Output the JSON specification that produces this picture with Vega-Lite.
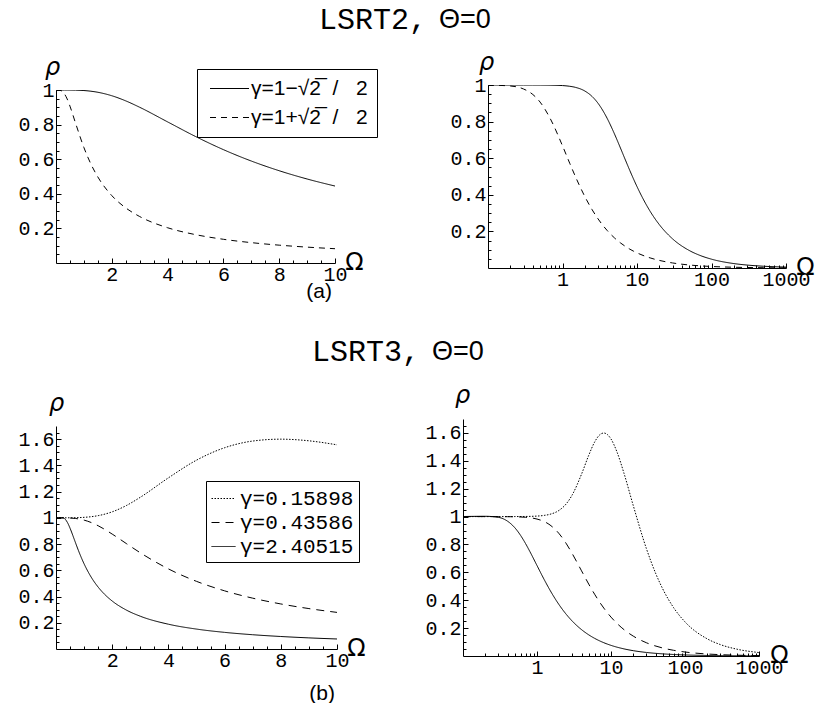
{
  "$schema": "https://vega.github.io/schema/vega-lite/v6.json",
  "padding": {"left": 17, "top": 5, "right": 0, "bottom": 0},
  "background": "white",
  "config": {
    "view": {"stroke": null},
    "axis": {"grid": false, "domainColor": "black", "domainWidth": 1, "tickColor": "black", "tickWidth": 1, "labelColor": "black", "labelFont": "Liberation Mono", "labelFontSize": 20, "labelOverlap": false, "labelFlush": false, "labelBound": false, "titleColor": "black", "titleFontWeight": "normal", "titleAngle": 0},
    "line": {"color": "black", "strokeWidth": 1, "interpolate": "monotone"},
    "title": {"color": "black", "fontWeight": "normal", "subtitleColor": "black"}
  },
  "datasets": {
    "lsrt2": [
      {"Omega": 0, "g": "γ=1−√2\u0305\u00a0\u00a0/\u00a0\u00a0\u00a02", "rho": 1},
      {"Omega": 0.1, "g": "γ=1−√2\u0305\u00a0\u00a0/\u00a0\u00a0\u00a02", "rho": 1.0},
      {"Omega": 0.2, "g": "γ=1−√2\u0305\u00a0\u00a0/\u00a0\u00a0\u00a02", "rho": 0.99999},
      {"Omega": 0.3, "g": "γ=1−√2\u0305\u00a0\u00a0/\u00a0\u00a0\u00a02", "rho": 0.99997},
      {"Omega": 0.4, "g": "γ=1−√2\u0305\u00a0\u00a0/\u00a0\u00a0\u00a02", "rho": 0.99991},
      {"Omega": 0.5, "g": "γ=1−√2\u0305\u00a0\u00a0/\u00a0\u00a0\u00a02", "rho": 0.99978},
      {"Omega": 0.7, "g": "γ=1−√2\u0305\u00a0\u00a0/\u00a0\u00a0\u00a02", "rho": 0.99919},
      {"Omega": 1, "g": "γ=1−√2\u0305\u00a0\u00a0/\u00a0\u00a0\u00a02", "rho": 0.99687},
      {"Omega": 1.25, "g": "γ=1−√2\u0305\u00a0\u00a0/\u00a0\u00a0\u00a02", "rho": 0.99299},
      {"Omega": 1.5, "g": "γ=1−√2\u0305\u00a0\u00a0/\u00a0\u00a0\u00a02", "rho": 0.98683},
      {"Omega": 2, "g": "γ=1−√2\u0305\u00a0\u00a0/\u00a0\u00a0\u00a02", "rho": 0.96682},
      {"Omega": 2.5, "g": "γ=1−√2\u0305\u00a0\u00a0/\u00a0\u00a0\u00a02", "rho": 0.93711},
      {"Omega": 3, "g": "γ=1−√2\u0305\u00a0\u00a0/\u00a0\u00a0\u00a02", "rho": 0.90009},
      {"Omega": 4, "g": "γ=1−√2\u0305\u00a0\u00a0/\u00a0\u00a0\u00a02", "rho": 0.81566},
      {"Omega": 5, "g": "γ=1−√2\u0305\u00a0\u00a0/\u00a0\u00a0\u00a02", "rho": 0.73136},
      {"Omega": 6, "g": "γ=1−√2\u0305\u00a0\u00a0/\u00a0\u00a0\u00a02", "rho": 0.65526},
      {"Omega": 7, "g": "γ=1−√2\u0305\u00a0\u00a0/\u00a0\u00a0\u00a02", "rho": 0.58943},
      {"Omega": 8, "g": "γ=1−√2\u0305\u00a0\u00a0/\u00a0\u00a0\u00a02", "rho": 0.53331},
      {"Omega": 9, "g": "γ=1−√2\u0305\u00a0\u00a0/\u00a0\u00a0\u00a02", "rho": 0.48558},
      {"Omega": 10, "g": "γ=1−√2\u0305\u00a0\u00a0/\u00a0\u00a0\u00a02", "rho": 0.44486},
      {"Omega": 15, "g": "γ=1−√2\u0305\u00a0\u00a0/\u00a0\u00a0\u00a02", "rho": 0.30998},
      {"Omega": 20, "g": "γ=1−√2\u0305\u00a0\u00a0/\u00a0\u00a0\u00a02", "rho": 0.23629},
      {"Omega": 30, "g": "γ=1−√2\u0305\u00a0\u00a0/\u00a0\u00a0\u00a02", "rho": 0.1594},
      {"Omega": 50, "g": "γ=1−√2\u0305\u00a0\u00a0/\u00a0\u00a0\u00a02", "rho": 0.09623},
      {"Omega": 70, "g": "γ=1−√2\u0305\u00a0\u00a0/\u00a0\u00a0\u00a02", "rho": 0.06885},
      {"Omega": 100, "g": "γ=1−√2\u0305\u00a0\u00a0/\u00a0\u00a0\u00a02", "rho": 0.04824},
      {"Omega": 200, "g": "γ=1−√2\u0305\u00a0\u00a0/\u00a0\u00a0\u00a02", "rho": 0.02414},
      {"Omega": 300, "g": "γ=1−√2\u0305\u00a0\u00a0/\u00a0\u00a0\u00a02", "rho": 0.01609},
      {"Omega": 500, "g": "γ=1−√2\u0305\u00a0\u00a0/\u00a0\u00a0\u00a02", "rho": 0.00966},
      {"Omega": 1000, "g": "γ=1−√2\u0305\u00a0\u00a0/\u00a0\u00a0\u00a02", "rho": 0.00483},
      {"Omega": 0, "g": "γ=1+√2\u0305\u00a0\u00a0/\u00a0\u00a0\u00a02", "rho": 1},
      {"Omega": 0.1, "g": "γ=1+√2\u0305\u00a0\u00a0/\u00a0\u00a0\u00a02", "rho": 0.9996},
      {"Omega": 0.2, "g": "γ=1+√2\u0305\u00a0\u00a0/\u00a0\u00a0\u00a02", "rho": 0.99454},
      {"Omega": 0.3, "g": "γ=1+√2\u0305\u00a0\u00a0/\u00a0\u00a0\u00a02", "rho": 0.97818},
      {"Omega": 0.4, "g": "γ=1+√2\u0305\u00a0\u00a0/\u00a0\u00a0\u00a02", "rho": 0.94809},
      {"Omega": 0.5, "g": "γ=1+√2\u0305\u00a0\u00a0/\u00a0\u00a0\u00a02", "rho": 0.90684},
      {"Omega": 0.7, "g": "γ=1+√2\u0305\u00a0\u00a0/\u00a0\u00a0\u00a02", "rho": 0.80877},
      {"Omega": 1, "g": "γ=1+√2\u0305\u00a0\u00a0/\u00a0\u00a0\u00a02", "rho": 0.6676},
      {"Omega": 1.25, "g": "γ=1+√2\u0305\u00a0\u00a0/\u00a0\u00a0\u00a02", "rho": 0.57246},
      {"Omega": 1.5, "g": "γ=1+√2\u0305\u00a0\u00a0/\u00a0\u00a0\u00a02", "rho": 0.49714},
      {"Omega": 2, "g": "γ=1+√2\u0305\u00a0\u00a0/\u00a0\u00a0\u00a02", "rho": 0.38958},
      {"Omega": 2.5, "g": "γ=1+√2\u0305\u00a0\u00a0/\u00a0\u00a0\u00a02", "rho": 0.31841},
      {"Omega": 3, "g": "γ=1+√2\u0305\u00a0\u00a0/\u00a0\u00a0\u00a02", "rho": 0.26853},
      {"Omega": 4, "g": "γ=1+√2\u0305\u00a0\u00a0/\u00a0\u00a0\u00a02", "rho": 0.20384},
      {"Omega": 5, "g": "γ=1+√2\u0305\u00a0\u00a0/\u00a0\u00a0\u00a02", "rho": 0.164},
      {"Omega": 6, "g": "γ=1+√2\u0305\u00a0\u00a0/\u00a0\u00a0\u00a02", "rho": 0.13709},
      {"Omega": 7, "g": "γ=1+√2\u0305\u00a0\u00a0/\u00a0\u00a0\u00a02", "rho": 0.11773},
      {"Omega": 8, "g": "γ=1+√2\u0305\u00a0\u00a0/\u00a0\u00a0\u00a02", "rho": 0.10314},
      {"Omega": 9, "g": "γ=1+√2\u0305\u00a0\u00a0/\u00a0\u00a0\u00a02", "rho": 0.09176},
      {"Omega": 10, "g": "γ=1+√2\u0305\u00a0\u00a0/\u00a0\u00a0\u00a02", "rho": 0.08263},
      {"Omega": 15, "g": "γ=1+√2\u0305\u00a0\u00a0/\u00a0\u00a0\u00a02", "rho": 0.05517},
      {"Omega": 20, "g": "γ=1+√2\u0305\u00a0\u00a0/\u00a0\u00a0\u00a02", "rho": 0.04139},
      {"Omega": 30, "g": "γ=1+√2\u0305\u00a0\u00a0/\u00a0\u00a0\u00a02", "rho": 0.02761},
      {"Omega": 50, "g": "γ=1+√2\u0305\u00a0\u00a0/\u00a0\u00a0\u00a02", "rho": 0.01657},
      {"Omega": 70, "g": "γ=1+√2\u0305\u00a0\u00a0/\u00a0\u00a0\u00a02", "rho": 0.01183},
      {"Omega": 100, "g": "γ=1+√2\u0305\u00a0\u00a0/\u00a0\u00a0\u00a02", "rho": 0.00828},
      {"Omega": 200, "g": "γ=1+√2\u0305\u00a0\u00a0/\u00a0\u00a0\u00a02", "rho": 0.00414},
      {"Omega": 300, "g": "γ=1+√2\u0305\u00a0\u00a0/\u00a0\u00a0\u00a02", "rho": 0.00276},
      {"Omega": 500, "g": "γ=1+√2\u0305\u00a0\u00a0/\u00a0\u00a0\u00a02", "rho": 0.00166},
      {"Omega": 1000, "g": "γ=1+√2\u0305\u00a0\u00a0/\u00a0\u00a0\u00a02", "rho": 0.00083}
    ],
    "lsrt3": [
      {"Omega": 0, "g": "γ=0.15898", "rho": 1},
      {"Omega": 0.1, "g": "γ=0.15898", "rho": 1.0},
      {"Omega": 0.2, "g": "γ=0.15898", "rho": 1.00001},
      {"Omega": 0.3, "g": "γ=0.15898", "rho": 1.00003},
      {"Omega": 0.4, "g": "γ=0.15898", "rho": 1.0001},
      {"Omega": 0.5, "g": "γ=0.15898", "rho": 1.00024},
      {"Omega": 0.7, "g": "γ=0.15898", "rho": 1.00091},
      {"Omega": 1, "g": "γ=0.15898", "rho": 1.00363},
      {"Omega": 1.25, "g": "γ=0.15898", "rho": 1.00848},
      {"Omega": 1.5, "g": "γ=0.15898", "rho": 1.01664},
      {"Omega": 2, "g": "γ=0.15898", "rho": 1.04567},
      {"Omega": 2.5, "g": "γ=0.15898", "rho": 1.09324},
      {"Omega": 3, "g": "γ=0.15898", "rho": 1.15665},
      {"Omega": 4, "g": "γ=0.15898", "rho": 1.30478},
      {"Omega": 5, "g": "γ=0.15898", "rho": 1.43952},
      {"Omega": 6, "g": "γ=0.15898", "rho": 1.53421},
      {"Omega": 7, "g": "γ=0.15898", "rho": 1.58521},
      {"Omega": 8, "g": "γ=0.15898", "rho": 1.5996},
      {"Omega": 9, "g": "γ=0.15898", "rho": 1.58711},
      {"Omega": 10, "g": "γ=0.15898", "rho": 1.55645},
      {"Omega": 12, "g": "γ=0.15898", "rho": 1.46591},
      {"Omega": 15, "g": "γ=0.15898", "rho": 1.30975},
      {"Omega": 20, "g": "γ=0.15898", "rho": 1.07858},
      {"Omega": 30, "g": "γ=0.15898", "rho": 0.77226},
      {"Omega": 40, "g": "γ=0.15898", "rho": 0.59444},
      {"Omega": 50, "g": "γ=0.15898", "rho": 0.48139},
      {"Omega": 70, "g": "γ=0.15898", "rho": 0.34756},
      {"Omega": 100, "g": "γ=0.15898", "rho": 0.24469},
      {"Omega": 200, "g": "γ=0.15898", "rho": 0.12285},
      {"Omega": 300, "g": "γ=0.15898", "rho": 0.08197},
      {"Omega": 500, "g": "γ=0.15898", "rho": 0.04921},
      {"Omega": 1000, "g": "γ=0.15898", "rho": 0.02461},
      {"Omega": 0, "g": "γ=0.43586", "rho": 1},
      {"Omega": 0.1, "g": "γ=0.43586", "rho": 1.0},
      {"Omega": 0.2, "g": "γ=0.43586", "rho": 0.99996},
      {"Omega": 0.3, "g": "γ=0.43586", "rho": 0.9998},
      {"Omega": 0.4, "g": "γ=0.43586", "rho": 0.99938},
      {"Omega": 0.5, "g": "γ=0.43586", "rho": 0.99854},
      {"Omega": 0.7, "g": "γ=0.43586", "rho": 0.99492},
      {"Omega": 1, "g": "γ=0.43586", "rho": 0.98244},
      {"Omega": 1.25, "g": "γ=0.43586", "rho": 0.96438},
      {"Omega": 1.5, "g": "γ=0.43586", "rho": 0.93968},
      {"Omega": 2, "g": "γ=0.43586", "rho": 0.87605},
      {"Omega": 2.5, "g": "γ=0.43586", "rho": 0.8042},
      {"Omega": 3, "g": "γ=0.43586", "rho": 0.73346},
      {"Omega": 4, "g": "γ=0.43586", "rho": 0.61061},
      {"Omega": 5, "g": "γ=0.43586", "rho": 0.51573},
      {"Omega": 6, "g": "γ=0.43586", "rho": 0.44341},
      {"Omega": 7, "g": "γ=0.43586", "rho": 0.38754},
      {"Omega": 8, "g": "γ=0.43586", "rho": 0.3435},
      {"Omega": 9, "g": "γ=0.43586", "rho": 0.30807},
      {"Omega": 10, "g": "γ=0.43586", "rho": 0.27907},
      {"Omega": 15, "g": "γ=0.43586", "rho": 0.18895},
      {"Omega": 20, "g": "γ=0.43586", "rho": 0.14249},
      {"Omega": 30, "g": "γ=0.43586", "rho": 0.09537},
      {"Omega": 50, "g": "γ=0.43586", "rho": 0.05734},
      {"Omega": 70, "g": "γ=0.43586", "rho": 0.04098},
      {"Omega": 100, "g": "γ=0.43586", "rho": 0.02869},
      {"Omega": 200, "g": "γ=0.43586", "rho": 0.01435},
      {"Omega": 300, "g": "γ=0.43586", "rho": 0.00957},
      {"Omega": 500, "g": "γ=0.43586", "rho": 0.00574},
      {"Omega": 1000, "g": "γ=0.43586", "rho": 0.00287},
      {"Omega": 0, "g": "γ=2.40515", "rho": 1},
      {"Omega": 0.1, "g": "γ=2.40515", "rho": 1.00046},
      {"Omega": 0.2, "g": "γ=2.40515", "rho": 1.00216},
      {"Omega": 0.3, "g": "γ=2.40515", "rho": 0.99466},
      {"Omega": 0.4, "g": "γ=2.40515", "rho": 0.96686},
      {"Omega": 0.5, "g": "γ=2.40515", "rho": 0.92087},
      {"Omega": 0.6, "g": "γ=2.40515", "rho": 0.86502},
      {"Omega": 0.7, "g": "γ=2.40515", "rho": 0.80657},
      {"Omega": 0.8, "g": "γ=2.40515", "rho": 0.74989},
      {"Omega": 1, "g": "γ=2.40515", "rho": 0.64897},
      {"Omega": 1.25, "g": "γ=2.40515", "rho": 0.54858},
      {"Omega": 1.5, "g": "γ=2.40515", "rho": 0.47187},
      {"Omega": 1.75, "g": "γ=2.40515", "rho": 0.41253},
      {"Omega": 2, "g": "γ=2.40515", "rho": 0.36573},
      {"Omega": 2.5, "g": "γ=2.40515", "rho": 0.29721},
      {"Omega": 3, "g": "γ=2.40515", "rho": 0.24983},
      {"Omega": 4, "g": "γ=2.40515", "rho": 0.18901},
      {"Omega": 5, "g": "γ=2.40515", "rho": 0.15182},
      {"Omega": 6, "g": "γ=2.40515", "rho": 0.1268},
      {"Omega": 7, "g": "γ=2.40515", "rho": 0.10883},
      {"Omega": 8, "g": "γ=2.40515", "rho": 0.09531},
      {"Omega": 9, "g": "γ=2.40515", "rho": 0.08477},
      {"Omega": 10, "g": "γ=2.40515", "rho": 0.07633},
      {"Omega": 15, "g": "γ=2.40515", "rho": 0.05094},
      {"Omega": 20, "g": "γ=2.40515", "rho": 0.03822},
      {"Omega": 30, "g": "γ=2.40515", "rho": 0.02548},
      {"Omega": 50, "g": "γ=2.40515", "rho": 0.01531},
      {"Omega": 70, "g": "γ=2.40515", "rho": 0.01093},
      {"Omega": 100, "g": "γ=2.40515", "rho": 0.00765},
      {"Omega": 200, "g": "γ=2.40515", "rho": 0.00382},
      {"Omega": 300, "g": "γ=2.40515", "rho": 0.00255},
      {"Omega": 500, "g": "γ=2.40515", "rho": 0.00153},
      {"Omega": 1000, "g": "γ=2.40515", "rho": 0.00077}
    ]
  },
  "resolve": {"scale": {"strokeDash": "independent"}, "legend": {"strokeDash": "independent"}},
  "bounds": "full",
  "spacing": 35,
  "vconcat": [
    {
      "title": {"text": "LSRT2,", "subtitle": "\u200b\u00a0\u00a0\u00a0\u00a0\u00a0\u00a0\u00a0\u00a0\u00a0\u00a0\u00a0\u00a0\u00a0\u00a0\u00a0\u00a0Θ=0", "font": "Liberation Mono", "fontSize": 30, "subtitleFont": "Liberation Sans", "subtitleFontSize": 27, "subtitlePadding": -28, "anchor": "start", "frame": "group", "dx": 263, "align": "left", "offset": 15},
      "bounds": "flush",
      "center": true,
      "spacing": 153,
      "resolve": {"scale": {"strokeDash": "independent"}, "legend": {"strokeDash": "independent"}},
      "hconcat": [
        {
          "width": 279, "height": 173,
          "data": {"name": "lsrt2"},
          "transform": [{"filter": "datum.Omega <= 10"}],
          "title": {"text": "(a)", "orient": "bottom", "anchor": "end", "frame": "group", "font": "Liberation Sans", "fontSize": 21, "offset": -5, "dx": -3},
          "mark": {"type": "line", "clip": true},
          "encoding": {
            "x": {"field": "Omega", "type": "quantitative", "scale": {"domain": [0, 10], "nice": false, "zero": false},
              "axis": {"values": [0.5,1,1.5,2,2.5,3,3.5,4,4.5,5,5.5,6,6.5,7,7.5,8,8.5,9,9.5,10],
                "labelExpr": "datum.value % 2 === 0 ? format(datum.value, 'd') : ''",
                "tickSize": {"condition": {"test": "datum.value % 2 === 0", "value": -5}, "value": -3},
                "labelPadding": 6,
                "title": "Ω", "titleFont": "DejaVu Sans", "titleFontSize": 24, "titleAlign": "center", "titleBaseline": "alphabetic", "titleX": 298, "titleY": 6}},
            "y": {"field": "rho", "type": "quantitative", "scale": {"domain": [0, 1], "nice": false},
              "axis": {"values": [0.05,0.1,0.15,0.2,0.25,0.3,0.35,0.4,0.45,0.5,0.55,0.6,0.65,0.7,0.75,0.8,0.85,0.9,0.95,1],
                "labelExpr": "abs(datum.value*5 - round(datum.value*5)) < 1e-6 ? (datum.value === 1 ? '1' : format(datum.value, '.1f')) : ''",
                "tickSize": {"condition": {"test": "abs(datum.value*5 - round(datum.value*5)) < 1e-6", "value": -5}, "value": -3},
                "labelPadding": 7,
                "title": "ρ", "titleFont": "DejaVu Sans", "titleFontStyle": "italic", "titleFontSize": 24, "titleAlign": "center", "titleBaseline": "alphabetic", "titleX": -4, "titleY": -16}},
            "strokeDash": {"field": "g", "type": "nominal",
              "scale": {"domain": ["γ=1−√2\u0305\u00a0\u00a0/\u00a0\u00a0\u00a02", "γ=1+√2\u0305\u00a0\u00a0/\u00a0\u00a0\u00a02"], "range": [[1, 0], [6, 5]]},
              "legend": {"orient": "none", "legendX": 141, "legendY": -21, "title": null, "labelFont": "Liberation Sans", "labelFontSize": 21, "labelColor": "black", "labelLimit": 400, "symbolType": "M-3,0H3", "symbolSize": 169, "symbolOffset": 13, "symbolStrokeColor": "black", "symbolStrokeWidth": 1, "strokeColor": "black", "fillColor": "white", "padding": 9, "rowPadding": 7, "labelOffset": 11}}
          }
        },
        {
          "width": 298, "height": 183,
          "data": {"name": "lsrt2"},
          "transform": [{"filter": "datum.Omega >= 0.1"}],
          "mark": {"type": "line", "clip": true},
          "encoding": {
            "x": {"field": "Omega", "type": "quantitative", "scale": {"type": "log", "domain": [0.1, 1000], "nice": false},
              "axis": {"values": [0.2,0.3,0.4,0.5,0.6,0.7,0.8,0.9,1,2,3,4,5,6,7,8,9,10,20,30,40,50,60,70,80,90,100,200,300,400,500,600,700,800,900,1000],
                "labelExpr": "(datum.value === 1 || datum.value === 10 || datum.value === 100 || datum.value === 1000) ? format(datum.value, 'd') : ''",
                "tickSize": {"condition": {"test": "datum.value === 1 || datum.value === 10 || datum.value === 100 || datum.value === 1000", "value": -5}, "value": -3},
                "labelPadding": 6,
                "title": "Ω", "titleFont": "DejaVu Sans", "titleFontSize": 24, "titleAlign": "center", "titleBaseline": "alphabetic", "titleX": 317, "titleY": 6}},
            "y": {"field": "rho", "type": "quantitative", "scale": {"domain": [0, 1], "nice": false},
              "axis": {"values": [0.05,0.1,0.15,0.2,0.25,0.3,0.35,0.4,0.45,0.5,0.55,0.6,0.65,0.7,0.75,0.8,0.85,0.9,0.95,1],
                "labelExpr": "abs(datum.value*5 - round(datum.value*5)) < 1e-6 ? (datum.value === 1 ? '1' : format(datum.value, '.1f')) : ''",
                "tickSize": {"condition": {"test": "abs(datum.value*5 - round(datum.value*5)) < 1e-6", "value": -5}, "value": -3},
                "labelPadding": 7,
                "title": "ρ", "titleFont": "DejaVu Sans", "titleFontStyle": "italic", "titleFontSize": 24, "titleAlign": "center", "titleBaseline": "alphabetic", "titleX": -2, "titleY": -16}},
            "strokeDash": {"field": "g", "type": "nominal",
              "scale": {"domain": ["γ=1−√2\u0305\u00a0\u00a0/\u00a0\u00a0\u00a02", "γ=1+√2\u0305\u00a0\u00a0/\u00a0\u00a0\u00a02"], "range": [[1, 0], [6, 5]]},
              "legend": null}
          }
        }
      ]
    },
    {
      "title": {"text": "LSRT3,", "subtitle": "\u200b\u00a0\u00a0\u00a0\u00a0\u00a0\u00a0\u00a0\u00a0\u00a0\u00a0\u00a0\u00a0\u00a0\u00a0\u00a0\u00a0Θ=0", "font": "Liberation Mono", "fontSize": 30, "subtitleFont": "Liberation Sans", "subtitleFontSize": 27, "subtitlePadding": -28, "anchor": "start", "frame": "group", "dx": 256, "align": "left", "offset": 16},
      "bounds": "flush",
      "center": true,
      "spacing": 126,
      "resolve": {"scale": {"strokeDash": "independent"}, "legend": {"strokeDash": "independent"}},
      "hconcat": [
        {
          "width": 281, "height": 223,
          "data": {"name": "lsrt3"},
          "transform": [{"filter": "datum.Omega <= 10"}],
          "title": {"text": "(b)", "orient": "bottom", "anchor": "end", "frame": "group", "font": "Liberation Sans", "fontSize": 21, "offset": 11, "dx": -2},
          "mark": {"type": "line", "clip": true},
          "encoding": {
            "x": {"field": "Omega", "type": "quantitative", "scale": {"domain": [0, 10], "nice": false, "zero": false},
              "axis": {"values": [0.5,1,1.5,2,2.5,3,3.5,4,4.5,5,5.5,6,6.5,7,7.5,8,8.5,9,9.5,10],
                "labelExpr": "datum.value % 2 === 0 ? format(datum.value, 'd') : ''",
                "tickSize": {"condition": {"test": "datum.value % 2 === 0", "value": -5}, "value": -3},
                "labelPadding": 6,
                "title": "Ω", "titleFont": "DejaVu Sans", "titleFontSize": 24, "titleAlign": "center", "titleBaseline": "alphabetic", "titleX": 300, "titleY": 6}},
            "y": {"field": "rho", "type": "quantitative", "scale": {"domain": [0, 1.7], "nice": false},
              "axis": {"values": [0.05,0.1,0.15,0.2,0.25,0.3,0.35,0.4,0.45,0.5,0.55,0.6,0.65,0.7,0.75,0.8,0.85,0.9,0.95,1,1.05,1.1,1.15,1.2,1.25,1.3,1.35,1.4,1.45,1.5,1.55,1.6,1.65],
                "labelExpr": "abs(datum.value*5 - round(datum.value*5)) < 1e-6 ? (datum.value === 1 ? '1' : format(datum.value, '.1f')) : ''",
                "tickSize": {"condition": {"test": "abs(datum.value*5 - round(datum.value*5)) < 1e-6", "value": -5}, "value": -3},
                "labelPadding": 7,
                "title": "ρ", "titleFont": "DejaVu Sans", "titleFontStyle": "italic", "titleFontSize": 24, "titleAlign": "center", "titleBaseline": "alphabetic", "titleX": 0, "titleY": -16}},
            "strokeDash": {"field": "g", "type": "nominal",
              "scale": {"domain": ["γ=0.15898", "γ=0.43586", "γ=2.40515"], "range": [[1.5, 1.5], [8, 6], [1, 0]]},
              "legend": {"orient": "none", "legendX": 150, "legendY": 55, "title": null, "labelFont": "Liberation Mono", "labelFontSize": 21, "labelColor": "black", "labelLimit": 400, "symbolType": "stroke", "symbolSize": 576, "symbolStrokeColor": "black", "symbolStrokeWidth": 1, "strokeColor": "black", "fillColor": "white", "padding": 5, "rowPadding": 1, "labelOffset": 4}}
          }
        },
        {
          "width": 296, "height": 237,
          "data": {"name": "lsrt3"},
          "transform": [{"filter": "datum.Omega >= 0.1"}],
          "mark": {"type": "line", "clip": true},
          "encoding": {
            "x": {"field": "Omega", "type": "quantitative", "scale": {"type": "log", "domain": [0.1, 1000], "nice": false},
              "axis": {"values": [0.2,0.3,0.4,0.5,0.6,0.7,0.8,0.9,1,2,3,4,5,6,7,8,9,10,20,30,40,50,60,70,80,90,100,200,300,400,500,600,700,800,900,1000],
                "labelExpr": "(datum.value === 1 || datum.value === 10 || datum.value === 100 || datum.value === 1000) ? format(datum.value, 'd') : ''",
                "tickSize": {"condition": {"test": "datum.value === 1 || datum.value === 10 || datum.value === 100 || datum.value === 1000", "value": -5}, "value": -3},
                "labelPadding": 6,
                "title": "Ω", "titleFont": "DejaVu Sans", "titleFontSize": 24, "titleAlign": "center", "titleBaseline": "alphabetic", "titleX": 316, "titleY": 6}},
            "y": {"field": "rho", "type": "quantitative", "scale": {"domain": [0, 1.7], "nice": false},
              "axis": {"values": [0.05,0.1,0.15,0.2,0.25,0.3,0.35,0.4,0.45,0.5,0.55,0.6,0.65,0.7,0.75,0.8,0.85,0.9,0.95,1,1.05,1.1,1.15,1.2,1.25,1.3,1.35,1.4,1.45,1.5,1.55,1.6,1.65],
                "labelExpr": "abs(datum.value*5 - round(datum.value*5)) < 1e-6 ? (datum.value === 1 ? '1' : format(datum.value, '.1f')) : ''",
                "tickSize": {"condition": {"test": "abs(datum.value*5 - round(datum.value*5)) < 1e-6", "value": -5}, "value": -3},
                "labelPadding": 7,
                "title": "ρ", "titleFont": "DejaVu Sans", "titleFontStyle": "italic", "titleFontSize": 24, "titleAlign": "center", "titleBaseline": "alphabetic", "titleX": -1, "titleY": -17}},
            "strokeDash": {"field": "g", "type": "nominal",
              "scale": {"domain": ["γ=0.15898", "γ=0.43586", "γ=2.40515"], "range": [[1.5, 1.5], [8, 6], [1, 0]]},
              "legend": null}
          }
        }
      ]
    }
  ]
}
